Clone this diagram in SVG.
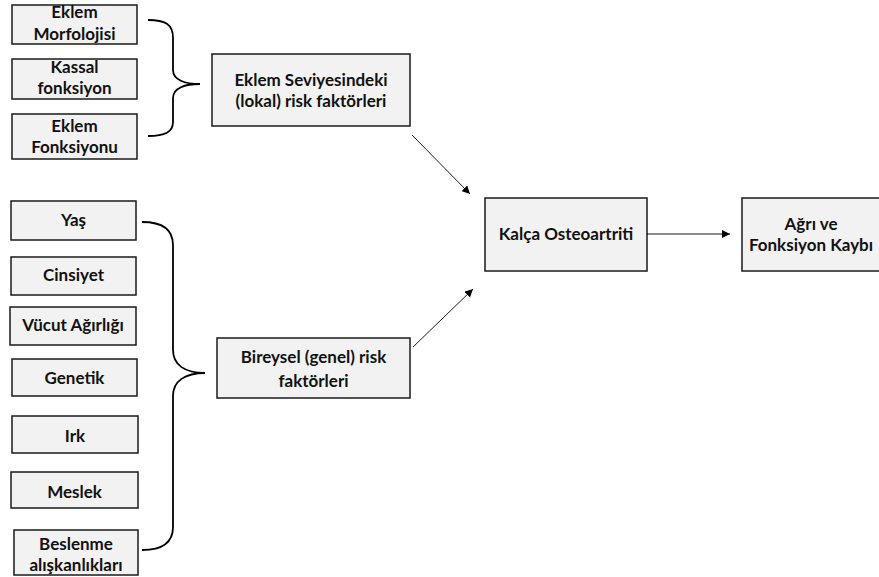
<svg xmlns="http://www.w3.org/2000/svg" width="879" height="577" viewBox="0 0 879 577">
<defs>
<marker id="ah" viewBox="0 0 10 10" refX="10" refY="5" markerWidth="8" markerHeight="8" markerUnits="userSpaceOnUse" orient="auto">
<path d="M0,0 L10,5 L0,10 z" fill="#000"/>
</marker>
<style>
.box{fill:#f2f2f2;stroke:#1a1a1a;stroke-width:1.5}
.t{font-family:Lato,"Liberation Sans",sans-serif;font-weight:bold;font-size:17px;fill:#111;text-anchor:middle}
.br{fill:none;stroke:#000;stroke-width:1.8}
.ln{fill:none;stroke:#000;stroke-width:0.9;marker-end:url(#ah)}
</style>
</defs>
<rect width="879" height="577" fill="#fff"/>
<g id="n-morfoloji"><rect class="box" x="12" y="5" width="125" height="39"/><text class="t" x="74.5" y="18">Eklem</text><text class="t" x="74.5" y="40">Morfolojisi</text></g>
<g id="n-kassal"><rect class="box" x="12" y="59" width="125" height="40"/><text class="t" x="74.5" y="73">Kassal</text><text class="t" x="74.5" y="94">fonksiyon</text></g>
<g id="n-fonksiyon"><rect class="box" x="12" y="114" width="125" height="45"/><text class="t" x="74.5" y="132">Eklem</text><text class="t" x="74.5" y="153">Fonksiyonu</text></g>
<g id="n-lokal"><rect class="box" x="212" y="54" width="198" height="72"/><text class="t" x="311" y="86">Eklem Seviyesindeki</text><text class="t" x="311" y="107">(lokal) risk faktörleri</text></g>
<g id="n-yas"><rect class="box" x="11" y="201" width="125" height="39"/><text class="t" x="73.5" y="226">Yaş</text></g>
<g id="n-cinsiyet"><rect class="box" x="11" y="257" width="125" height="38"/><text class="t" x="73.5" y="281">Cinsiyet</text></g>
<g id="n-vucut"><rect class="box" x="10" y="307" width="126" height="38"/><text class="t" x="73" y="331">Vücut Ağırlığı</text></g>
<g id="n-genetik"><rect class="box" x="12" y="359" width="125" height="37"/><text class="t" x="74.5" y="384">Genetik</text></g>
<g id="n-irk"><rect class="box" x="12" y="416" width="126" height="37"/><text class="t" x="75" y="442">Irk</text></g>
<g id="n-meslek"><rect class="box" x="11" y="472" width="127" height="36"/><text class="t" x="74.5" y="498">Meslek</text></g>
<g id="n-beslenme"><rect class="box" x="14" y="530" width="124" height="45"/><text class="t" x="76" y="550">Beslenme</text><text class="t" x="76" y="571">alışkanlıkları</text></g>
<g id="n-genel"><rect class="box" x="217" y="338" width="193" height="60"/><text class="t" x="313.5" y="363">Bireysel (genel) risk</text><text class="t" x="313.5" y="387">faktörleri</text></g>
<g id="n-kalca"><rect class="box" x="485" y="198" width="162" height="73"/><text class="t" x="566" y="240">Kalça Osteoartriti</text></g>
<g id="n-agri"><rect class="box" x="742" y="198" width="140" height="73"/><text class="t" x="811" y="230">Ağrı ve</text><text class="t" x="811" y="251">Fonksiyon Kaybı</text></g>
<g id="connectors">
<path class="br" d="M148,20 C165,20 173,24 173,38 L173,70 C173,80 185,84 200,84 C185,84 173,88 173,98 L173,122 C173,132 165,136 148,136"/>
<path class="br" d="M142,222 C163,222 173,230 173,245 L173,350 C173,365 185,373 205,373 C185,373 173,381 173,396 L173,527 C173,542 163,550 142,550"/>
<line class="ln" x1="412" y1="135" x2="470" y2="194"/>
<line class="ln" x1="413" y1="347" x2="473" y2="289"/>
<line class="ln" x1="647" y1="234" x2="730" y2="234"/>
</g>
</svg>
